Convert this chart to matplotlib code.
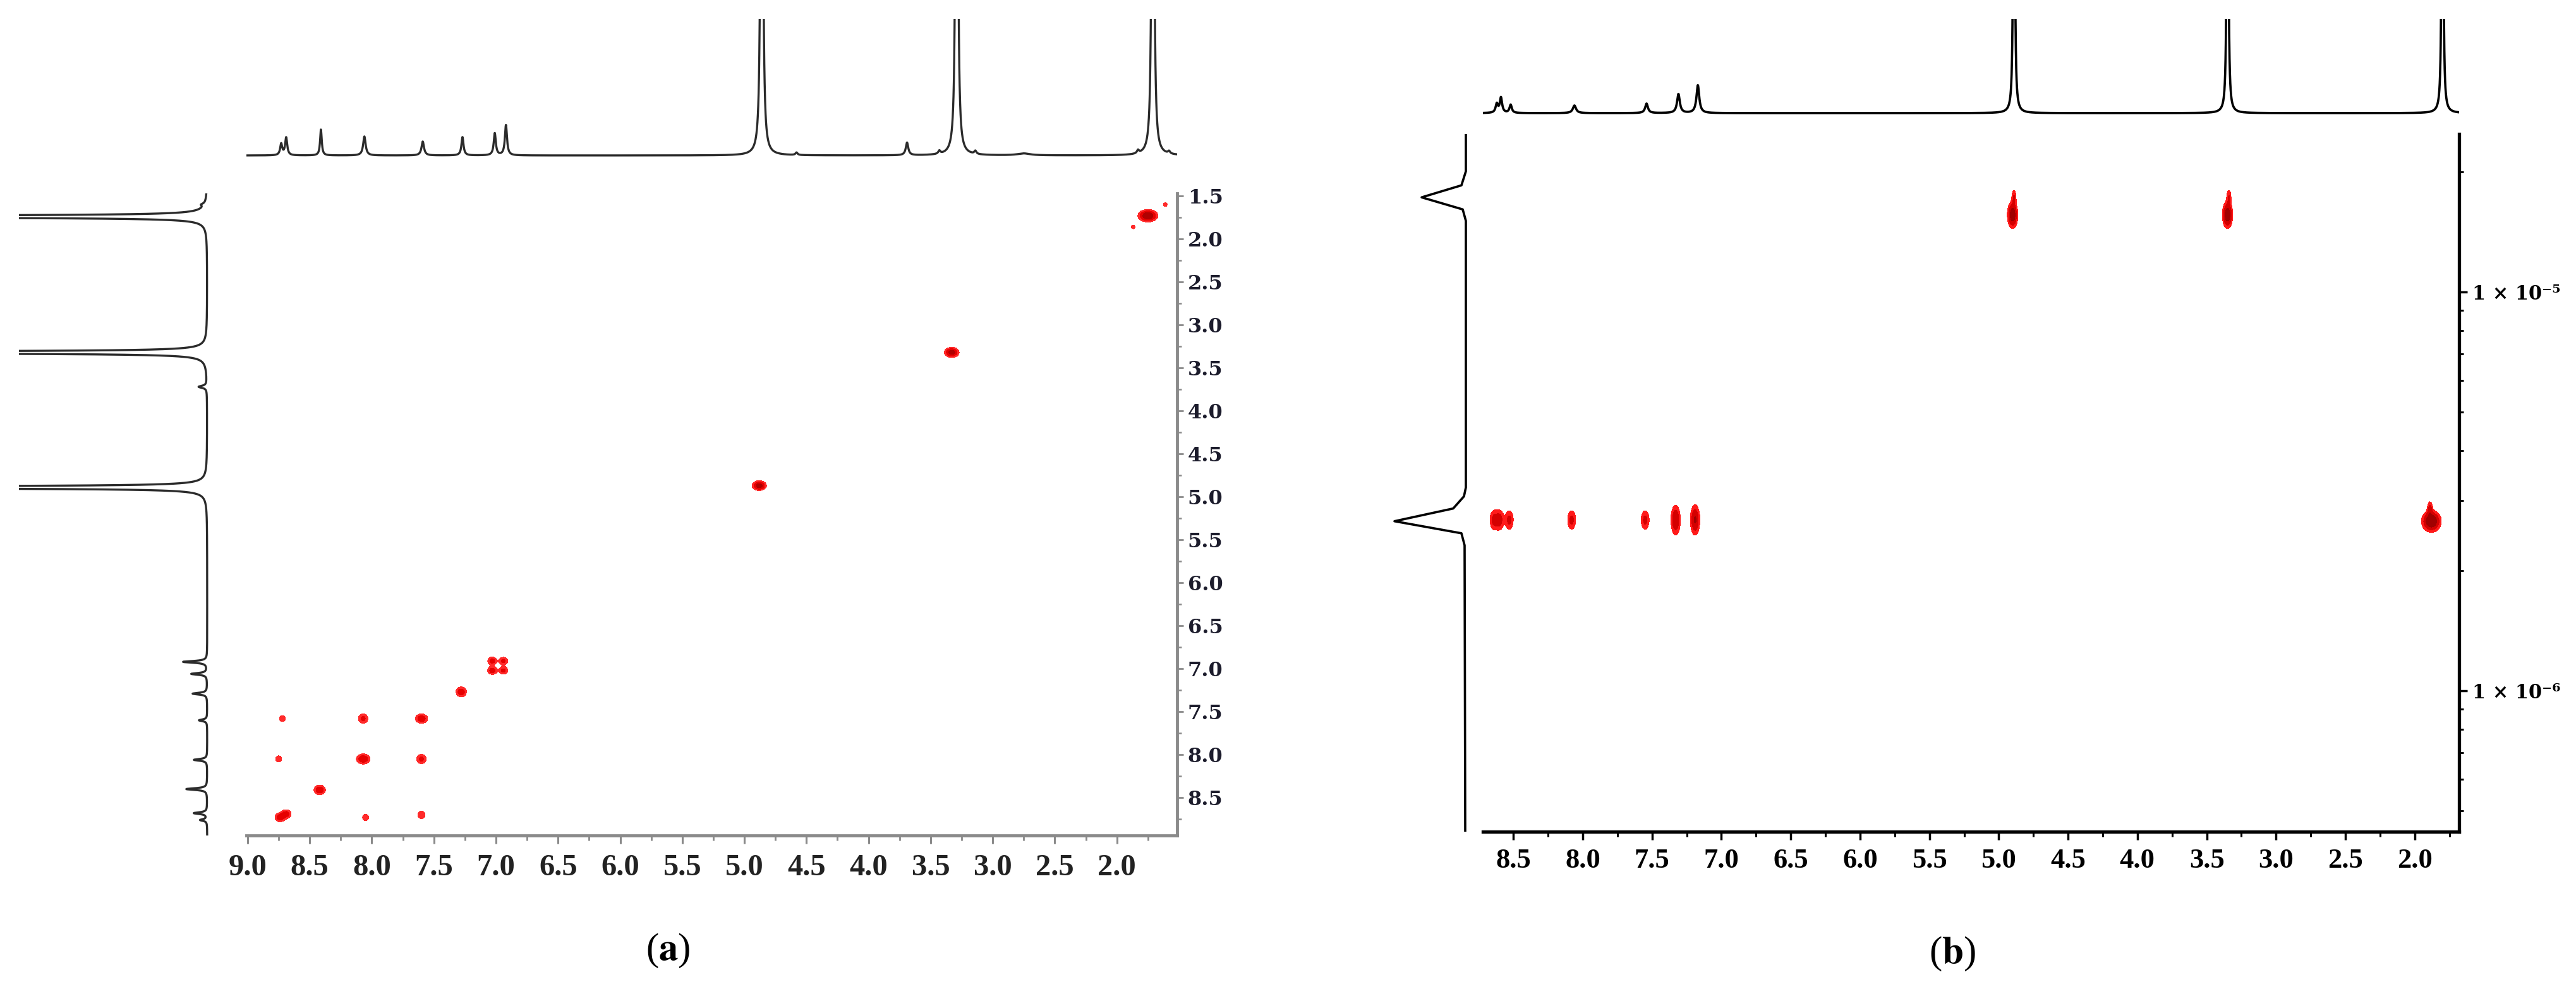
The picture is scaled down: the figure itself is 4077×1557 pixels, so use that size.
import numpy as np
import matplotlib
matplotlib.use('Agg')
import matplotlib.pyplot as plt
from matplotlib.ticker import MultipleLocator, LogLocator, FuncFormatter, NullFormatter

plt.rcParams['mathtext.fontset'] = 'stix'

W, H = 4077, 1557  # output size in pixels

# ---------------- (a) COSY ----------------
# F2 projection on top: shift (ppm), height, half width (ppm)
a_top_ppm = [8.73, 8.69, 8.41, 8.06, 7.59, 7.27, 7.01, 6.92, 4.86, 4.58, 3.69, 3.43, 3.29, 3.14, 2.75, 1.83, 1.71, 1.58]
a_top_int = [18, 28, 41, 30, 22, 29, 35, 48, 4000, 4, 20, 5, 4000, 5, 3, 5, 4000, 4]
a_top_hw = [0.010, 0.010, 0.008, 0.012, 0.012, 0.010, 0.010, 0.010, 0.004, 0.010,
            0.012, 0.010, 0.004, 0.010, 0.060, 0.010, 0.004, 0.010]

# F1 projection on the left
a_left_ppm = [1.60, 1.74, 3.32, 3.72, 4.89, 6.92, 7.06, 7.29, 7.60, 8.06, 8.40, 8.68, 8.76]
a_left_int = [5, 4000, 4000, 13, 4000, 38, 25, 23, 13, 21, 33, 21, 11]
a_left_hw = [0.015, 0.005, 0.005, 0.015, 0.005, 0.012, 0.012, 0.012, 0.012, 0.012, 0.012, 0.012, 0.012]

# cross peaks: F2, F1, intensity, widths
a_pk_f2 = [8.72, 8.07, 7.60, 8.75, 8.07, 7.60, 8.42, 8.74, 8.69, 8.05, 7.60, 7.28,
           7.03, 6.94, 7.03, 6.94, 4.88, 3.33, 1.75, 1.87, 1.61]
a_pk_f1 = [7.58, 7.58, 7.58, 8.05, 8.05, 8.05, 8.41, 8.73, 8.69, 8.73, 8.70, 7.27,
           6.91, 6.91, 7.02, 7.02, 4.87, 3.32, 1.73, 1.86, 1.60]
a_pk_amp = [0.7, 1.0, 1.3, 0.7, 1.4, 1.0, 1.4, 1.2, 1.2, 0.7, 0.8, 1.3,
            1.1, 1.0, 1.2, 1.0, 2.0, 2.0, 2.5, 0.5, 0.5]
a_pk_sx = [0.021, 0.026, 0.031, 0.021, 0.033, 0.026, 0.028, 0.026, 0.026, 0.021, 0.023, 0.026,
           0.024, 0.024, 0.024, 0.024, 0.031, 0.032, 0.041, 0.018, 0.018]
a_pk_sy = [0.031, 0.038, 0.034, 0.031, 0.036, 0.038, 0.034, 0.032, 0.032, 0.031, 0.033, 0.036,
           0.030, 0.030, 0.030, 0.030, 0.031, 0.032, 0.037, 0.026, 0.026]

# ---------------- (b) DOSY ----------------
b_top_ppm = [8.62, 8.59, 8.52, 8.06, 7.54, 7.31, 7.17, 4.89, 3.35, 1.80]
b_top_int = [14, 24, 13, 12, 15, 30, 44, 2100, 2100, 2100]
b_top_hw = [0.010, 0.010, 0.010, 0.014, 0.012, 0.012, 0.012, 0.003, 0.003, 0.003]

# diffusion projection (left), read as a polyline
b_proj_D = [2.49e-5, 2.007e-5, 1.851e-5, 1.727e-5, 1.611e-5, 1.508e-5, 3.233e-6,
            3.072e-6, 2.864e-6, 2.661e-6, 2.482e-6, 2.315e-6, 4.43e-7]
b_proj_int = [0, 0, 7, 70, 5, 0, 0, 3, 20, 113, 7, 2, 1]

# DOSY peaks: shift, D (m2/s), intensity, width ppm, width log10(D)
b_pk_ppm = [8.64, 8.60, 8.53, 8.08, 7.55, 7.33, 7.19, 1.88, 1.89, 4.90, 4.89, 3.35, 3.34]
b_pk_D = [2.68e-6, 2.68e-6, 2.68e-6, 2.68e-6, 2.68e-6, 2.68e-6, 2.68e-6, 2.66e-6, 2.86e-6,
          1.56e-5, 1.73e-5, 1.56e-5, 1.73e-5]
b_pk_amp = [1.0, 1.1, 1.0, 1.0, 1.0, 1.5, 1.6, 2.6, 1.0, 2.2, 0.8, 2.2, 0.8]
b_pk_sx = [0.020, 0.020, 0.020, 0.020, 0.020, 0.020, 0.020, 0.036, 0.012, 0.020, 0.011, 0.020, 0.011]
b_pk_sy = [0.016, 0.016, 0.016, 0.016, 0.016, 0.022, 0.022, 0.014, 0.012, 0.018, 0.013, 0.018, 0.013]


def px_axes(fig, x0, y0, x1, y1):
    """axes placed by pixel box (top-left origin)"""
    return fig.add_axes([x0 / W, 1 - y1 / H, (x1 - x0) / W, (y1 - y0) / H])


def lorentz(x, pos, hgt, hw):
    y = np.zeros_like(x)
    for p, h, g in zip(pos, hgt, hw):
        y += h * g ** 2 / ((x - p) ** 2 + g ** 2)
    return y


def gauss2d(X, Y, xs, ys, amps, sxs, sys_):
    Z = np.zeros_like(X)
    for x0, y0, a, sx, sy in zip(xs, ys, amps, sxs, sys_):
        Z += a * np.exp(-((X - x0) ** 2 / (2 * sx ** 2) + (Y - y0) ** 2 / (2 * sy ** 2)))
    return Z


fig = plt.figure(figsize=(W / 100, H / 100), dpi=100)

# ======== panel (a) ========
a_xlim = (9.01, 1.515)
a_ylim = (8.94, 1.47)
gray = '#8a8a8a'

ax_a = px_axes(fig, 390, 306, 1863, 1322)
xg = np.linspace(a_xlim[0], a_xlim[1], 1500)
yg = np.linspace(a_ylim[1], a_ylim[0], 1000)
X, Y = np.meshgrid(xg, yg)
Z = gauss2d(X, Y, a_pk_f2, a_pk_f1, a_pk_amp, a_pk_sx, a_pk_sy)
ax_a.contourf(X, Y, Z, levels=[0.35, 0.8, 1.5, 1e3], colors=['#ff2a2a', '#e60000', '#b00000'])
ax_a.set_xlim(*a_xlim)
ax_a.set_ylim(*a_ylim)
for s in ['top', 'left']:
    ax_a.spines[s].set_visible(False)
for s in ['bottom', 'right']:
    ax_a.spines[s].set_color(gray)
    ax_a.spines[s].set_linewidth(3.5)
ax_a.yaxis.tick_right()
ax_a.xaxis.set_major_locator(MultipleLocator(0.5))
ax_a.xaxis.set_minor_locator(MultipleLocator(0.25))
ax_a.yaxis.set_major_locator(MultipleLocator(0.5))
ax_a.yaxis.set_minor_locator(MultipleLocator(0.25))
ax_a.xaxis.set_major_formatter(FuncFormatter(lambda v, p: f'{v:.1f}'))
ax_a.yaxis.set_major_formatter(FuncFormatter(lambda v, p: f'{v:.1f}'))
ax_a.tick_params(axis='x', which='major', direction='out', length=9, width=2.2, color=gray, pad=12)
ax_a.tick_params(axis='x', which='minor', direction='out', length=6, width=2.0, color=gray)
ax_a.tick_params(axis='y', which='major', direction='out', length=7, width=2.0, color=gray, pad=5)
ax_a.tick_params(axis='y', which='minor', direction='out', length=5, width=1.8, color=gray)
for lbl in ax_a.get_xticklabels():
    lbl.set_fontfamily('Liberation Serif')
    lbl.set_fontweight('bold')
    lbl.set_fontsize(35)
    lbl.set_color('#222222')
for lbl in ax_a.get_yticklabels():
    lbl.set_fontfamily('DejaVu Serif')
    lbl.set_fontweight('bold')
    lbl.set_fontsize(23)
    lbl.set_color('#1c1c2c')

# top projection (F2)
ax_at = px_axes(fig, 390, 30, 1863, 260)
xs = np.linspace(a_xlim[0], a_xlim[1], 8000)
ax_at.plot(xs, lorentz(xs, a_top_ppm, a_top_int, a_top_hw), color='#2b2b2b', lw=2.4)
ax_at.set_xlim(*a_xlim)
ax_at.set_ylim(-14, 216)
ax_at.axis('off')

# left projection (F1)
ax_al = px_axes(fig, 30, 306, 340, 1322)
ys = np.linspace(a_ylim[1], a_ylim[0], 8000)
ax_al.plot(lorentz(ys, a_left_ppm, a_left_int, a_left_hw), ys, color='#2b2b2b', lw=2.4)
ax_al.set_xlim(298, -12)
ax_al.set_ylim(*a_ylim)
ax_al.axis('off')

fig.text(1057 / W, 1 - 1504 / H, r'($\mathbf{a}$)', ha='center', va='center',
         fontsize=44, family='Liberation Serif')

# ======== panel (b) ========
b_xlim = (8.72, 1.68)
b_ylim = (4.43e-7, 2.49e-5)

ax_b = px_axes(fig, 2347, 212, 3892, 1316)
xg = np.linspace(b_xlim[0], b_xlim[1], 1500)
lg = np.linspace(np.log10(b_ylim[0]), np.log10(b_ylim[1]), 1100)
X, L = np.meshgrid(xg, lg)
Z = gauss2d(X, L, b_pk_ppm, np.log10(b_pk_D), b_pk_amp, b_pk_sx, b_pk_sy)
ax_b.contourf(X, 10 ** L, Z, levels=[0.35, 0.8, 1.5, 1e3], colors=['#ff1a1a', '#d40000', '#a00000'])
ax_b.set_yscale('log')
ax_b.set_xlim(*b_xlim)
ax_b.set_ylim(*b_ylim)
for s in ['top', 'left']:
    ax_b.spines[s].set_visible(False)
for s in ['bottom', 'right']:
    ax_b.spines[s].set_color('black')
    ax_b.spines[s].set_linewidth(3.8)
ax_b.yaxis.tick_right()
ax_b.xaxis.set_major_locator(MultipleLocator(0.5))
ax_b.xaxis.set_minor_locator(MultipleLocator(0.25))
ax_b.xaxis.set_major_formatter(FuncFormatter(lambda v, p: f'{v:.1f}'))
ax_b.yaxis.set_major_locator(LogLocator(base=10, numticks=10))
ax_b.yaxis.set_minor_locator(LogLocator(base=10, subs=np.arange(2, 10), numticks=10))
sup = str.maketrans('-0123456789', '⁻⁰¹²³⁴⁵⁶⁷⁸⁹')
ax_b.yaxis.set_major_formatter(
    FuncFormatter(lambda v, p: '1 × 10' + str(int(round(np.log10(v)))).translate(sup)))
ax_b.yaxis.set_minor_formatter(NullFormatter())
ax_b.tick_params(axis='x', which='major', direction='out', length=9, width=2.5, color='black', pad=10)
ax_b.tick_params(axis='x', which='minor', direction='out', length=6, width=2.2, color='black')
ax_b.tick_params(axis='y', which='major', direction='out', length=9, width=2.5, color='black', pad=6)
ax_b.tick_params(axis='y', which='minor', direction='out', length=5, width=2.2, color='black')
for lbl in ax_b.get_xticklabels():
    lbl.set_fontfamily('Liberation Serif')
    lbl.set_fontweight('bold')
    lbl.set_fontsize(32)
for lbl in ax_b.get_yticklabels():
    lbl.set_fontfamily(['DejaVu Serif', 'DejaVu Sans'])
    lbl.set_fontweight('bold')
    lbl.set_fontsize(22)

# top projection
ax_bt = px_axes(fig, 2347, 30, 3892, 192)
xs = np.linspace(b_xlim[0], b_xlim[1], 8000)
ax_bt.plot(xs, lorentz(xs, b_top_ppm, b_top_int, b_top_hw), color='black', lw=2.6)
ax_bt.set_xlim(*b_xlim)
ax_bt.set_ylim(-13, 149)
ax_bt.axis('off')

# diffusion projection
ax_bl = px_axes(fig, 2150, 212, 2332, 1316)
ax_bl.plot(b_proj_int, b_proj_D, color='black', lw=2.6)
ax_bl.set_yscale('log')
ax_bl.set_ylim(*b_ylim)
ax_bl.set_xlim(170, -12)
ax_bl.axis('off')

fig.text(3090 / W, 1 - 1509 / H, r'($\mathbf{b}$)', ha='center', va='center',
         fontsize=44, family='Liberation Serif')

fig.savefig('out.png', dpi=100, facecolor='white')
